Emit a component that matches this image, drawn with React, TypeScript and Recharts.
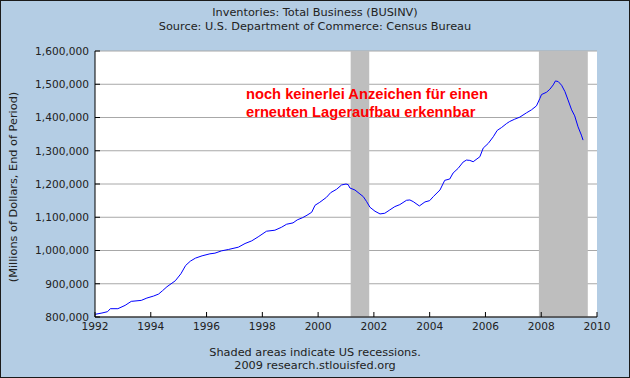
import React from 'react';
import {
  ComposedChart,
  Line,
  XAxis,
  YAxis,
  CartesianGrid,
  ReferenceArea,
} from 'recharts';

// Decimal year of each observation
const dates = [
  1992.0, 1992.25, 1992.45, 1992.55, 1992.82, 1993.08, 1993.3, 1993.66, 1993.86,
  1994.1, 1994.28, 1994.42, 1994.58, 1994.88, 1995.08, 1995.25, 1995.42, 1995.6,
  1995.84, 1996.12, 1996.3, 1996.54, 1996.78, 1997.14, 1997.38, 1997.62, 1997.85,
  1998.15, 1998.45, 1998.69, 1998.87, 1999.1, 1999.25, 1999.45, 1999.6, 1999.77,
  1999.89, 2000.06, 2000.3, 2000.45, 2000.66, 2000.84, 2001.0, 2001.08, 2001.14,
  2001.32, 2001.47, 2001.62, 2001.74, 2001.86, 2002.04, 2002.22, 2002.39, 2002.57,
  2002.75, 2002.93, 2003.17, 2003.29, 2003.41, 2003.63, 2003.83, 2004.0, 2004.13,
  2004.37, 2004.54, 2004.72, 2004.84, 2005.02, 2005.2, 2005.32, 2005.44, 2005.56,
  2005.8, 2005.92, 2006.1, 2006.28, 2006.42, 2006.58, 2006.76, 2006.87, 2007.05,
  2007.23, 2007.47, 2007.65, 2007.83, 2007.95, 2008.01, 2008.19, 2008.31, 2008.43,
  2008.51, 2008.61, 2008.73, 2008.85, 2008.96, 2009.09, 2009.2, 2009.32, 2009.44,
  2009.5,
];

// Total business inventories, millions of dollars
const inventories = [
  808000, 812000, 816000, 825000, 825000, 835000, 847000, 850000, 857000,
  863000, 869000, 879000, 891000, 909000, 930000, 955000, 968000, 977000,
  984000, 990000, 992000, 999000, 1003000, 1010000, 1021000, 1029000, 1041000,
  1058000, 1061000, 1070000, 1079000, 1083000, 1092000, 1099000, 1106000, 1115000,
  1136000, 1145000, 1160000, 1174000, 1184000, 1197000, 1200000, 1198000, 1188000,
  1182000, 1172000, 1162000, 1147000, 1130000, 1118000, 1110000, 1112000, 1122000,
  1132000, 1138000, 1151000, 1152000, 1147000, 1134000, 1146000, 1150000, 1162000,
  1182000, 1211000, 1215000, 1233000, 1247000, 1266000, 1272000, 1271000, 1267000,
  1282000, 1308000, 1322000, 1342000, 1361000, 1370000, 1382000, 1388000, 1395000,
  1401000, 1414000, 1423000, 1435000, 1457000, 1469000, 1476000, 1485000, 1498000,
  1510000, 1508000, 1497000, 1478000, 1453000, 1423000, 1405000, 1372000, 1347000,
  1332000,
];

const recessionStarts = [2001.167, 2007.917];
const recessionEnds = [2001.833, 2009.67];

const yearTicks = [1992, 1994, 1996, 1998, 2000, 2002, 2004, 2006, 2008, 2010];
const valueTicks = [800000, 900000, 1000000, 1100000, 1200000, 1300000, 1400000, 1500000, 1600000];

const titleLines = ['Inventories: Total Business (BUSINV)', 'Source: U.S. Department of Commerce: Census Bureau'];
const footerLines = ['Shaded areas indicate US recessions.', '2009 research.stlouisfed.org'];
const yLabel = '(Millions of Dollars, End of Period)';
const noteLines = ['noch keinerlei Anzeichen für einen', 'erneuten Lageraufbau erkennbar'];

const data = dates.map((d, i) => ({ date: d, value: inventories[i] }));

const FONT = '"DejaVu Sans", Verdana, sans-serif';
const TEXT = '#222';

export default function App() {
  const textStyle: React.CSSProperties = {
    position: 'absolute',
    left: 0,
    width: 630,
    textAlign: 'center',
    fontFamily: FONT,
    fontSize: 11.3,
    lineHeight: '13px',
    color: TEXT,
    whiteSpace: 'nowrap',
  };
  return (
    <div style={{ position: 'absolute', left: 0, top: 0, width: 630, height: 378, background: '#B4CDE4', overflow: 'hidden' }}>
      <ComposedChart
        width={630}
        height={378}
        data={data}
        margin={{ top: 51, right: 33, bottom: 31, left: 35 }}
      >
        <CartesianGrid horizontal vertical={false} stroke="#A8A8A8" fill="#FFFFFF" fillOpacity={1} />
        {recessionStarts.map((s, i) => (
          <ReferenceArea
            key={i}
            x1={s}
            x2={recessionEnds[i]}
            fill="#BEBEBE"
            fillOpacity={1}
            stroke="none"
            ifOverflow="hidden"
          />
        ))}
        <XAxis
          dataKey="date"
          type="number"
          domain={[1992, 2010]}
          ticks={yearTicks}
          allowDataOverflow
          height={30}
          stroke="#000"
          tickSize={-5}
          tickMargin={10}
          tick={{ fill: TEXT, fontSize: 10.6, fontFamily: FONT }}
          interval={0}
        />
        <YAxis
          type="number"
          domain={[800000, 1600000]}
          ticks={valueTicks}
          width={60}
          stroke="#000"
          tickSize={-5}
          tickMargin={11}
          tick={{ fill: TEXT, fontSize: 10.6, fontFamily: FONT }}
          tickFormatter={(v: number) => v.toLocaleString('en-US')}
          interval={0}
        />
        <Line
          type="linear"
          dataKey="value"
          stroke="#0000FF"
          strokeWidth={1}
          dot={false}
          isAnimationActive={false}
        />
      </ComposedChart>
      <div style={{ ...textStyle, top: 6 }}>{titleLines[0]}</div>
      <div style={{ ...textStyle, top: 19.5 }}>{titleLines[1]}</div>
      <div style={{ ...textStyle, top: 345.5 }}>{footerLines[0]}</div>
      <div style={{ ...textStyle, top: 358.5 }}>{footerLines[1]}</div>
      <div
        style={{
          position: 'absolute',
          left: 13,
          top: 187,
          transform: 'translate(-50%, -50%) rotate(-90deg)',
          fontFamily: FONT,
          fontSize: 11.3,
          lineHeight: '13px',
          color: TEXT,
          whiteSpace: 'nowrap',
        }}
      >
        {yLabel}
      </div>
      <div
        style={{
          position: 'absolute',
          left: 246,
          top: 84.5,
          fontFamily: '"Liberation Sans", Arial, sans-serif',
          fontWeight: 'bold',
          fontSize: 14.7,
          lineHeight: '18px',
          color: '#FF0000',
          whiteSpace: 'nowrap',
        }}
      >
        <div>{noteLines[0]}</div>
        <div>{noteLines[1]}</div>
      </div>
      <div
        style={{
          position: 'absolute',
          left: 0,
          top: 0,
          width: 630,
          height: 378,
          boxSizing: 'border-box',
          border: '1px solid #1A1A1A',
          pointerEvents: 'none',
        }}
      />
    </div>
  );
}
